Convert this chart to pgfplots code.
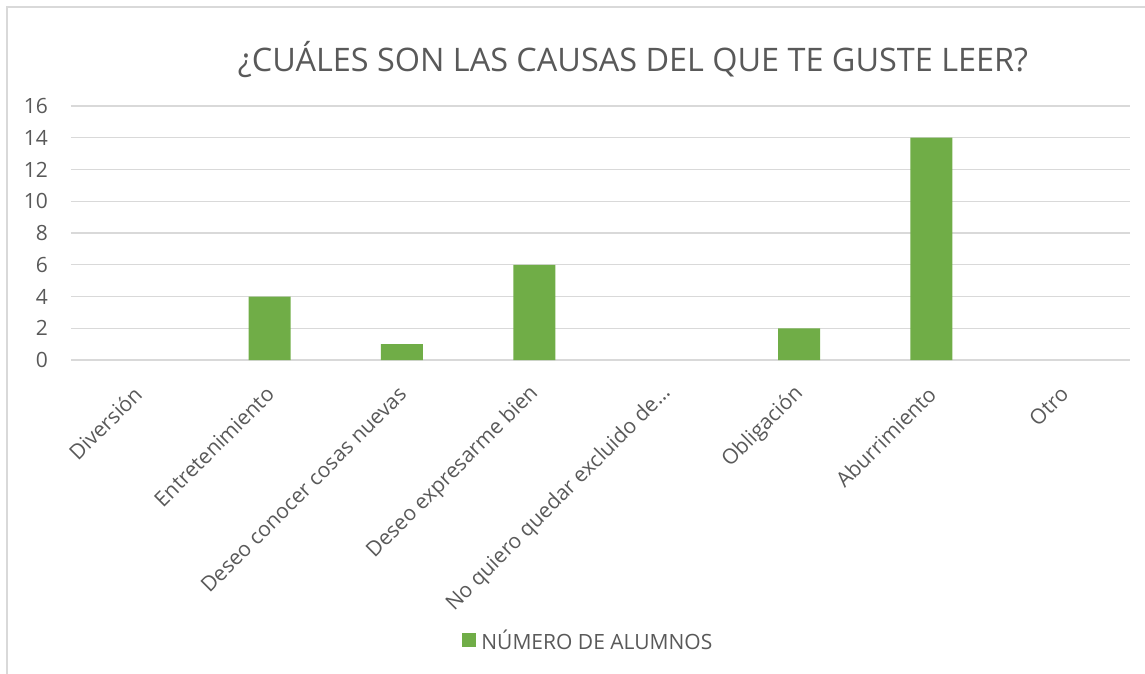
\documentclass[border=0pt]{standalone}
\usepackage{fontspec}
\setmainfont{Open Sans}
\usepackage{pgfplots}
\pgfplotsset{compat=1.18}
\definecolor{bargreen}{HTML}{70AD47}
\definecolor{gridgray}{HTML}{D9D9D9}
\definecolor{txtgray}{HTML}{595959}
\begin{document}
\begin{tikzpicture}
% 1 px of the reference = 0.5pt, origin at the bottom left of the plot area
\useasboundingbox (-35.5pt,-157pt) rectangle (537pt,180pt);
\draw[gridgray,line width=0.9pt] (-32pt,-157pt) -- (-32pt,176.5pt) -- (537pt,176.5pt);
\begin{axis}[
  at={(0pt,0pt)}, anchor=south west,
  scale only axis,
  width=529.5pt, height=127pt,
  ybar, bar width=21pt,
  xmin=-0.5, xmax=7.5,
  ymin=0, ymax=16, ytick distance=2,
  xtick={0,...,7},
  xticklabels={Diversión,Entretenimiento,Deseo conocer cosas nuevas,Deseo expresarme bien,No quiero quedar excluido de…,Obligación,Aburrimiento,Otro},
  axis line style={draw=none},
  major tick style={draw=none},
  ymajorgrids,
  grid style={gridgray,line width=0.65pt},
  tick label style={font=\fontsize{10.5}{12}\selectfont,text=txtgray},
  /pgf/number format/assume math mode=true,
  yticklabel style={xshift=-8pt},
  xticklabel style={rotate=45,anchor=east,yshift=-8pt,xshift=-4pt},
  unbounded coords=discard,
  y filter/.expression={y==0 ? nan : y},
]
\addplot[draw=none,fill=bargreen] coordinates {
  (0,0) (1,4) (2,1) (3,6) (4,0) (5,2) (6,14) (7,0)
};
\end{axis}
\node[text=txtgray,font=\fontsize{16.2}{19}\selectfont] at (281pt,150pt) {¿CUÁLES SON LAS CAUSAS DEL QUE TE GUSTE LEER?};
\fill[bargreen] (195.5pt,-136.5pt) rectangle (202.5pt,-143.5pt);
\node[text=txtgray,font=\fontsize{10.5}{12}\selectfont,anchor=west,inner sep=0pt] at (205pt,-140pt) {NÚMERO DE ALUMNOS};
\end{tikzpicture}
\end{document}
